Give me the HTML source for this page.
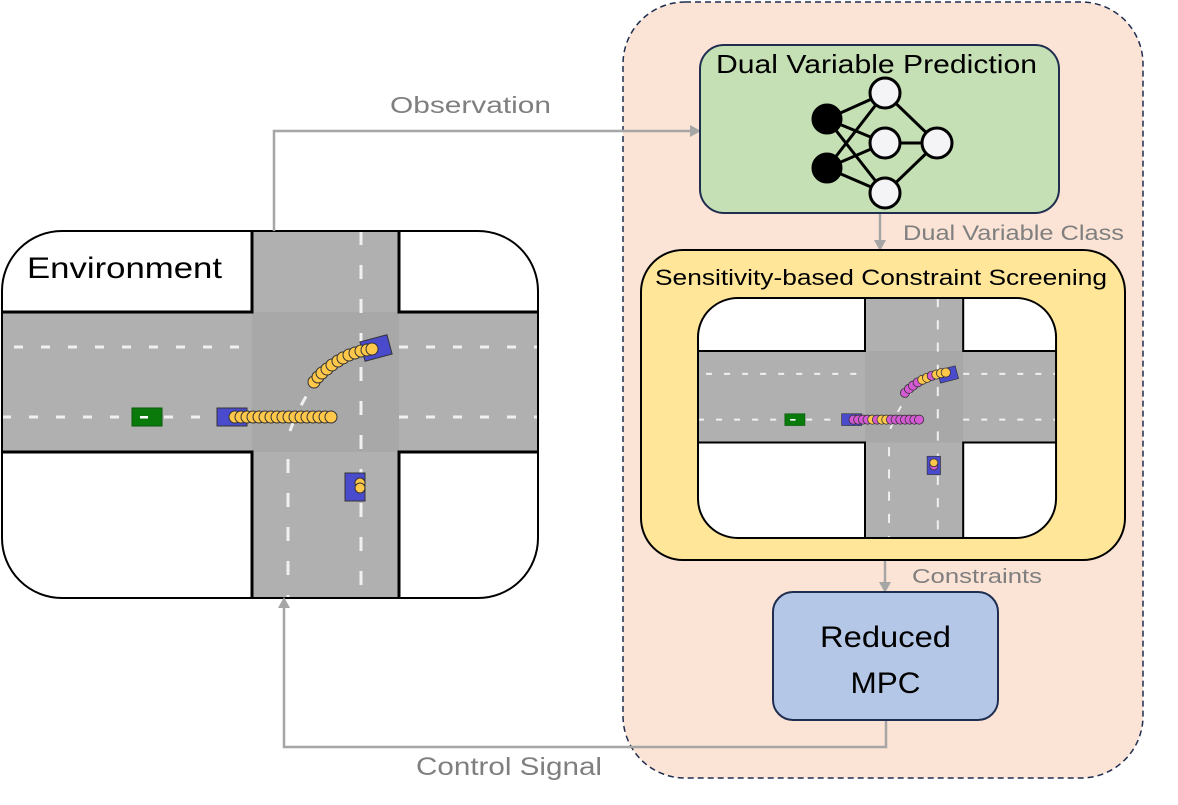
<!DOCTYPE html>
<html><head><meta charset="utf-8"><style>html,body{margin:0;padding:0;background:#fff}svg{display:block}text{font-family:"Liberation Sans",sans-serif}</style></head>
<body>
<svg width="1178" height="805" viewBox="0 0 1178 805" xmlns="http://www.w3.org/2000/svg">
<defs>
<clipPath id="cl"><rect x="0" y="0" width="536" height="367" rx="60"/></clipPath>
<g id="road">
 <rect x="0" y="0" width="536" height="367" fill="#fff"/>
 <rect x="0" y="81" width="536" height="140" fill="#b0b0b0"/>
 <rect x="250" y="0" width="147" height="367" fill="#b0b0b0"/>
 <rect x="250" y="81" width="147" height="140" fill="#a8a8a8"/>
 <path d="M0 81H250V0M397 0V81H536M0 221H250V367M397 367V221H536" fill="none" stroke="#000" stroke-width="3"/>
 <path d="M12 116H250M397 116H536M0 186H250M397 186H536" stroke="#f0f0f0" stroke-width="3" stroke-dasharray="9,18"/>
 <path d="M359 0V380" stroke="#f0f0f0" stroke-width="3" stroke-dasharray="14,20"/>
 <path d="M286 228V367" stroke="#f0f0f0" stroke-width="3" stroke-dasharray="14,20"/>
 <path d="M288 200Q310 140 350 120" stroke="#f0f0f0" stroke-width="3" stroke-dasharray="10,18" fill="none"/>
 <rect x="130" y="177" width="30" height="18" fill="#0a7a0a" stroke="#0a5a0a"/>
 <rect x="138" y="185" width="8" height="2.5" fill="#fff"/>
 <rect x="215" y="177" width="30" height="18" fill="#4a4acc" stroke="#333"/>
 <rect x="343" y="242" width="20" height="28" fill="#4a4acc" stroke="#333"/>
 <rect x="360" y="107" width="28" height="20" fill="#4a4acc" stroke="#333" transform="rotate(-15 374 117)"/>
</g>
</defs>
<rect x="623" y="2" width="520" height="776" rx="62" fill="#fbe3d6" stroke="#1f2d4f" stroke-width="1.5" stroke-dasharray="6,4"/>
<g transform="translate(2,231)">
 <g clip-path="url(#cl)"><use href="#road"/></g>
 <rect x="0" y="0" width="536" height="367" rx="60" fill="none" stroke="#000" stroke-width="2"/>
 <g fill="#ffc84a" stroke="#333" stroke-width="1">
  <circle cx="233" cy="186" r="6"/><circle cx="239" cy="186" r="6"/><circle cx="245" cy="186" r="6"/><circle cx="251" cy="186" r="6"/><circle cx="257" cy="186" r="6"/><circle cx="263" cy="186" r="6"/><circle cx="269" cy="186" r="6"/><circle cx="275" cy="186" r="6"/><circle cx="281" cy="186" r="6"/><circle cx="287" cy="186" r="6"/><circle cx="293" cy="186" r="6"/><circle cx="299" cy="186" r="6"/><circle cx="305" cy="186" r="6"/><circle cx="311" cy="186" r="6"/><circle cx="317" cy="186" r="6"/><circle cx="323" cy="186" r="6"/><circle cx="329" cy="186" r="6"/>
  <circle cx="312" cy="151" r="6"/><circle cx="316" cy="146" r="6"/><circle cx="320" cy="142" r="6"/><circle cx="325" cy="138" r="6"/><circle cx="330" cy="134" r="6"/><circle cx="336" cy="130" r="6"/><circle cx="341" cy="127" r="6"/><circle cx="347" cy="124" r="6"/><circle cx="353" cy="122" r="6"/><circle cx="359" cy="120" r="6"/><circle cx="365" cy="119" r="6"/><circle cx="370" cy="118" r="6"/>
  <circle cx="358" cy="252" r="5"/><circle cx="358" cy="257" r="5"/>
 </g>
 <text x="25" y="47" font-size="30" textLength="195" lengthAdjust="spacingAndGlyphs">Environment</text>
</g>
<g stroke="#a6a6a6" stroke-width="2.5" fill="none">
 <path d="M274 231V131H692"/>
 <path d="M880 213V242"/>
 <path d="M885 560V585"/>
 <path d="M886 720V747H284V606"/>
</g>
<g fill="#a6a6a6">
 <path d="M701 131l-11 -6v12z"/>
 <path d="M880 251l-6 -11h12z"/>
 <path d="M885 593l-6 -11h12z"/>
 <path d="M284 597l-6 11h12z"/>
</g>
<g fill="#7f7f7f">
 <text x="390" y="113" font-size="23" textLength="161" lengthAdjust="spacingAndGlyphs">Observation</text>
 <text x="903" y="240" font-size="21" textLength="221" lengthAdjust="spacingAndGlyphs">Dual Variable Class</text>
 <text x="912" y="583" font-size="20" textLength="130" lengthAdjust="spacingAndGlyphs">Constraints</text>
 <text x="416" y="775" font-size="25" textLength="186" lengthAdjust="spacingAndGlyphs">Control Signal</text>
</g>
<rect x="700" y="45" width="359" height="168" rx="24" fill="#c5e0b4" stroke="#1f2d4f" stroke-width="2"/>
<text x="716" y="73" font-size="26" textLength="321" lengthAdjust="spacingAndGlyphs">Dual Variable Prediction</text>
<g stroke="#000" stroke-width="3">
 <path d="M827 119L885 93M827 119L885 143M827 119L885 193M827 168L885 93M827 168L885 143M827 168L885 193M885 93L937 143M885 143L937 143M885 193L937 143"/>
 <circle cx="827" cy="119" r="14" fill="#000"/><circle cx="827" cy="168" r="14" fill="#000"/>
 <circle cx="885" cy="93" r="15" fill="#f4f4f6"/><circle cx="885" cy="143" r="15" fill="#f4f4f6"/><circle cx="885" cy="193" r="15" fill="#f4f4f6"/><circle cx="937" cy="143" r="15" fill="#f4f4f6"/>
</g>
<rect x="641" y="250" width="484" height="310" rx="42" fill="#ffe699" stroke="#000" stroke-width="2"/>
<text x="655" y="285" font-size="22" textLength="452" lengthAdjust="spacingAndGlyphs">Sensitivity-based Constraint Screening</text>
<g transform="translate(698,298) scale(0.668,0.654)">
 <g clip-path="url(#cl)"><use href="#road"/></g>
 <rect x="0" y="0" width="536" height="367" rx="60" fill="none" stroke="#000" stroke-width="3"/>
 <g stroke="#333" stroke-width="1.2">
  <circle cx="233" cy="186" r="7" fill="#d45ad4"/><circle cx="240" cy="186" r="7" fill="#d45ad4"/><circle cx="247" cy="186" r="7" fill="#d45ad4"/><circle cx="254" cy="186" r="7" fill="#d45ad4"/><circle cx="261" cy="186" r="7" fill="#ffc84a"/><circle cx="268" cy="186" r="7" fill="#d45ad4"/><circle cx="275" cy="186" r="7" fill="#ffc84a"/><circle cx="282" cy="186" r="7" fill="#ffc84a"/><circle cx="289" cy="186" r="7" fill="#d45ad4"/><circle cx="296" cy="186" r="7" fill="#d45ad4"/><circle cx="303" cy="186" r="7" fill="#d45ad4"/><circle cx="310" cy="186" r="7" fill="#d45ad4"/><circle cx="317" cy="186" r="7" fill="#d45ad4"/><circle cx="324" cy="186" r="7" fill="#d45ad4"/><circle cx="331" cy="186" r="7" fill="#d45ad4"/>
  <circle cx="310" cy="145" r="7" fill="#d45ad4"/><circle cx="316" cy="139" r="7" fill="#d45ad4"/><circle cx="322" cy="134" r="7" fill="#d45ad4"/><circle cx="329" cy="129" r="7" fill="#d45ad4"/><circle cx="336" cy="125" r="7" fill="#ffc84a"/><circle cx="343" cy="122" r="7" fill="#ffc84a"/><circle cx="350" cy="119" r="7" fill="#d45ad4"/><circle cx="357" cy="117" r="7" fill="#ffc84a"/><circle cx="364" cy="115" r="7" fill="#ffc84a"/><circle cx="371" cy="114" r="7" fill="#ffc84a"/>
  <circle cx="353" cy="257" r="6" fill="#d45ad4"/><circle cx="353" cy="252" r="6" fill="#ffc84a"/>
 </g>
</g>
<rect x="773" y="592" width="225" height="128" rx="20" fill="#b4c7e7" stroke="#1f2d4f" stroke-width="2"/>
<text x="885.5" y="647" font-size="30" text-anchor="middle" textLength="131" lengthAdjust="spacingAndGlyphs">Reduced</text>
<text x="885.5" y="693" font-size="30" text-anchor="middle" textLength="70" lengthAdjust="spacingAndGlyphs">MPC</text>
</svg>
</body></html>
